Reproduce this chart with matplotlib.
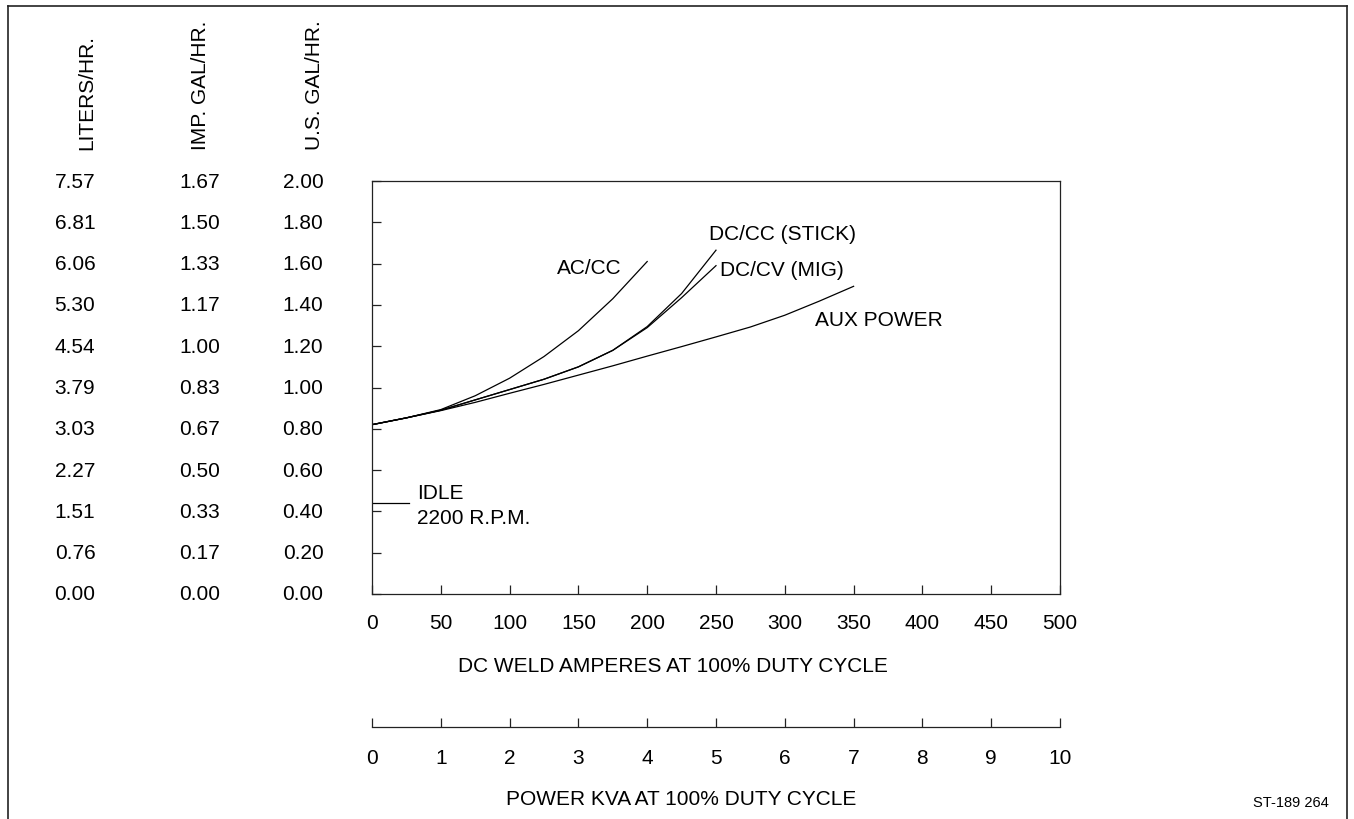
import matplotlib
matplotlib.use("Agg")
import matplotlib.pyplot as plt
from matplotlib.lines import Line2D
from matplotlib.transforms import blended_transform_factory

plt.rcParams['font.family'] = ['Liberation Sans', 'DejaVu Sans']

W, H = 1354, 820

# fuel consumption, U.S. gal/hr vs DC weld amperes
amps = [0, 25, 50, 75, 100, 125, 150, 175, 200, 225, 250, 275, 300, 325, 350]
ac_cc = [0.82, 0.853, 0.893, 0.96, 1.045, 1.15, 1.275, 1.43, 1.61]
dc_cc = [0.82, 0.853, 0.89, 0.94, 0.99, 1.04, 1.10, 1.18, 1.295, 1.455, 1.665]
dc_cv = [0.82, 0.853, 0.89, 0.94, 0.99, 1.04, 1.10, 1.18, 1.29, 1.435, 1.59]
aux_power = [0.82, 0.853, 0.888, 0.928, 0.972, 1.015, 1.06, 1.105, 1.152,
             1.198, 1.245, 1.293, 1.35, 1.418, 1.49]
idle_amps = [0, 27]
idle_gal = 0.44

# y scales
us_gal = [0.00, 0.20, 0.40, 0.60, 0.80, 1.00, 1.20, 1.40, 1.60, 1.80, 2.00]
imp_gal = ['0.00', '0.17', '0.33', '0.50', '0.67', '0.83', '1.00', '1.17', '1.33', '1.50', '1.67']
liters = ['0.00', '0.76', '1.51', '2.27', '3.03', '3.79', '4.54', '5.30', '6.06', '6.81', '7.57']

amp_ticks = [0, 50, 100, 150, 200, 250, 300, 350, 400, 450, 500]
kva_ticks = [0, 1, 2, 3, 4, 5, 6, 7, 8, 9, 10]

FS = 15


def fx(px):
    return px / W


def fy(py):
    return 1 - py / H


def ftext(x, y, s, **kw):
    kw.setdefault('fontsize', FS)
    fig.text(fx(x), fy(y), s, **kw)


fig = plt.figure(figsize=(W / 100, H / 100), dpi=100)

# main plot box
left, right, top, bottom = 372, 1060, 182, 595
ax = fig.add_axes([fx(left), fy(bottom), fx(right - left), (bottom - top) / H])
ax.set_xlim(0, 500)
ax.set_ylim(0, 2.0)
for s in ax.spines.values():
    s.set_linewidth(0.9)
    s.set_color('#222222')

ax.plot(amps[:len(ac_cc)], ac_cc, color='black', lw=0.9)
ax.plot(amps[:len(dc_cc)], dc_cc, color='black', lw=0.9)
ax.plot(amps[:len(dc_cv)], dc_cv, color='black', lw=0.9)
ax.plot(amps, aux_power, color='black', lw=0.9)
ax.plot(idle_amps, [idle_gal, idle_gal], color='black', lw=0.9)

ax.set_xticks(amp_ticks)
ax.set_xticklabels([str(a) for a in amp_ticks])
ax.set_yticks(us_gal)
ax.set_yticklabels([])
ax.tick_params(axis='both', direction='in', length=6.5, width=0.9, color='#222222')
ax.tick_params(axis='x', labelsize=FS, pad=14)
ax.tick_params(axis='y', left=True, right=False)

# three y label columns
tr = blended_transform_factory(fig.transFigure, ax.transData)
for g, imp, lit in zip(us_gal, imp_gal, liters):
    fig.text(fx(303), g, f'{g:.2f}', transform=tr, ha='center', va='center', fontsize=FS)
    fig.text(fx(200), g, imp, transform=tr, ha='center', va='center', fontsize=FS)
    fig.text(fx(75), g, lit, transform=tr, ha='center', va='center', fontsize=FS)

ftext(87, 150, 'LITERS/HR.', rotation=90, ha='center', va='bottom')
ftext(200, 150, 'IMP. GAL/HR.', rotation=90, ha='center', va='bottom')
ftext(315, 150, 'U.S. GAL/HR.', rotation=90, ha='center', va='bottom')

# curve labels
ftext(557, 268, 'AC/CC', va='center')
ftext(709, 235, 'DC/CC (STICK)', va='center')
ftext(720, 270, 'DC/CV (MIG)', va='center')
ftext(815, 321, 'AUX POWER', va='center')
ftext(417, 494, 'IDLE', va='center')
ftext(417, 518, '2200 R.P.M.', va='center')

ftext(458, 667, 'DC WELD AMPERES AT 100% DUTY CYCLE', va='center')

# power kVA scale
ax2 = fig.add_axes([fx(left), fy(728), fx(right - left), 0.001])
ax2.set_xlim(0, 10)
for k in ['top', 'left', 'right']:
    ax2.spines[k].set_visible(False)
ax2.spines['bottom'].set_linewidth(0.9)
ax2.spines['bottom'].set_color('#222222')
ax2.set_yticks([])
ax2.set_xticks(kva_ticks)
ax2.set_xticklabels([str(k) for k in kva_ticks])
ax2.tick_params(axis='x', direction='in', length=6.5, width=0.9, color='#222222',
                labelsize=FS, pad=15)
ax2.patch.set_visible(False)

ftext(506, 800, 'POWER KVA AT 100% DUTY CYCLE', va='center')
ftext(1329, 803, 'ST-189 264', ha='right', va='center', fontsize=10.5)

# outer frame, open at bottom
for xs, ys in [((8, 8), (7, H)), ((8, 1347), (7, 7)), ((1347, 1347), (7, H))]:
    fig.add_artist(Line2D([fx(xs[0]), fx(xs[1])], [fy(ys[0]), fy(ys[1])],
                          transform=fig.transFigure, color='#222222', lw=1.2))

fig.savefig('out.png', dpi=100)
